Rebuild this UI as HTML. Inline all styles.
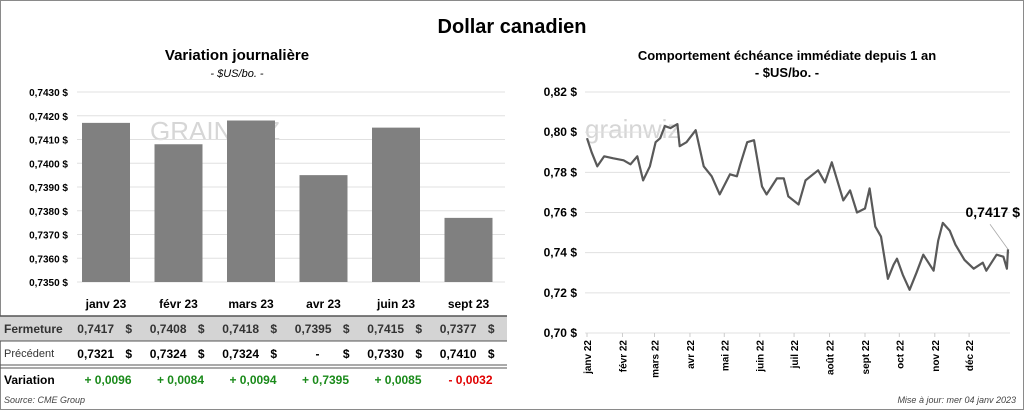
<!DOCTYPE html>
<html><head><meta charset="utf-8">
<style>
body{margin:0;width:1024px;height:410px;overflow:hidden;background:#fff;font-family:"Liberation Sans",sans-serif;}
#frame{position:absolute;left:0;top:0;width:1022px;height:408px;border:1px solid #8a8a8a;}
</style></head>
<body>
<div id="frame"></div>
<svg id="svg" width="1024" height="410" style="position:absolute;left:0;top:0" font-family="Liberation Sans, sans-serif">
<text x="512" y="33" text-anchor="middle" font-size="20" font-weight="bold">Dollar canadien</text>
<text x="237" y="60" text-anchor="middle" font-size="15" font-weight="bold">Variation  journalière</text>
<text x="237" y="77" text-anchor="middle" font-size="11" font-style="italic">- $US/bo. -</text>
<text x="787" y="60" text-anchor="middle" font-size="13" font-weight="bold">Comportement échéance immédiate depuis 1 an</text>
<text x="787" y="77" text-anchor="middle" font-size="13" font-weight="bold">- $US/bo. -</text>
<text x="150" y="140" font-size="26" fill="#d6d6d6">GRAINWIZ</text>
<text x="585" y="138" font-size="26" fill="#d6d6d6">grainwiz</text>
<g id="left"></g><g id="right"></g>
<rect x="0" y="316" width="507" height="25" fill="#d4d4d4"/>
<line x1="0" y1="316" x2="507" y2="316" stroke="#555" stroke-width="1.5"/>
<line x1="0" y1="341" x2="507" y2="341" stroke="#555" stroke-width="1"/>
<line x1="0" y1="365" x2="507" y2="365" stroke="#555" stroke-width="1"/>
<line x1="0" y1="368" x2="507" y2="368" stroke="#555" stroke-width="1"/>
<text x="4" y="333" font-size="12" font-weight="bold" fill="#333">Fermeture</text>
<text x="4" y="357" font-size="11" fill="#333">Précédent</text>
<text x="4" y="384" font-size="12" font-weight="bold">Variation</text>
<g id="table"></g>
<text x="4" y="403" font-size="9" font-style="italic" fill="#444">Source: CME Group</text>
<text x="1016" y="403" text-anchor="end" font-size="9" font-style="italic" fill="#444">Mise à jour: mer 04 janv 2023</text>
</svg>
<script>
const barCats=["janv 23","févr 23","mars 23","avr 23","juin 23","sept 23"];
const barVals=[0.7417,0.7408,0.7418,0.7395,0.7415,0.7377];
const prevLabels=["0,7321","0,7324","0,7324","-","0,7330","0,7410"];
const varLabels=["+ 0,0096","+ 0,0084","+ 0,0094","+ 0,7395","+ 0,0085","- 0,0032"];
const barTicks=[0.7350,0.7360,0.7370,0.7380,0.7390,0.7400,0.7410,0.7420,0.7430];
const lineDays=[0,4,9,15,23,32,38,44,49,55,60,64,68,73,79,81,87,95,102,109,116,125,131,134,140,146,153,157,166,172,176,185,191,202,208,214,224,230,236,243,247,252,257,263,268,271,276,282,288,294,303,307,311,317,322,330,338,346,349,358,364,367,368];
const lineVals=[0.797,0.790,0.783,0.788,0.787,0.786,0.784,0.788,0.776,0.783,0.795,0.797,0.803,0.802,0.804,0.793,0.795,0.801,0.783,0.778,0.769,0.779,0.778,0.784,0.795,0.796,0.773,0.769,0.777,0.777,0.768,0.764,0.776,0.781,0.775,0.785,0.766,0.771,0.760,0.762,0.772,0.753,0.748,0.727,0.734,0.737,0.729,0.7215,0.730,0.739,0.731,0.746,0.7548,0.751,0.744,0.7364,0.732,0.735,0.731,0.739,0.738,0.732,0.7417];
const lineTicks=[0.70,0.72,0.74,0.76,0.78,0.80,0.82];
const monthLabels=["janv 22","févr 22","mars 22","avr 22","mai 22","juin 22","juil 22","août 22","sept 22","oct 22","nov 22","déc 22"];
const monthDays=[0,31,59,90,120,151,181,212,243,273,304,334];

const NS="http://www.w3.org/2000/svg";
function mk(p,t,a,txt){const e=document.createElementNS(NS,t);for(const k in a)e.setAttribute(k,a[k]);if(txt!==undefined)e.textContent=txt;p.appendChild(e);return e;}
const fmt=(v,d)=>v.toFixed(d).replace('.',',');
// left
const L=document.getElementById('left');
const ly=v=>282-(v-0.7350)/0.0080*190;
const lx=i=>70+72.5*i+36;
barTicks.forEach(t=>{
 let g=mk(L,'line',{x1:77,x2:505,y1:ly(t),y2:ly(t),stroke:'#e0e0e0'});
 
 
 let e=mk(L,'text',{x:68,y:ly(t)+4,'text-anchor':'end','font-size':10,'font-weight':'bold'},fmt(t,4)+' $');
 
 
});
barVals.forEach((v,i)=>{
 let r=mk(L,'rect',{x:lx(i)-24,y:ly(v),width:48,height:282-ly(v),fill:'#808080'});
 
 
 let t=mk(L,'text',{x:lx(i),y:308,'text-anchor':'middle','font-size':12,'font-weight':'bold'},barCats[i]);
 
 
});
const T=document.getElementById('table');
barVals.forEach((v,i)=>{
 const cx=lx(i);
 let a=mk(T,'text',{x:cx+8,y:333,'text-anchor':'end','font-size':12,'font-weight':'bold',fill:'#333'},fmt(v,4));
 
 
 mk(T,'text',{x:cx+26,y:333,'text-anchor':'end','font-size':12,'font-weight':'bold',fill:'#333'},'$');
 let b=mk(T,'text',{x:prevLabels[i]=='-'?cx-4:cx+8,y:358,'text-anchor':'end','font-size':12,'font-weight':'bold'},prevLabels[i]);
 
 
 mk(T,'text',{x:cx+26,y:358,'text-anchor':'end','font-size':12,'font-weight':'bold'},'$');
 let c=mk(T,'text',{x:cx+2,y:384,'text-anchor':'middle','font-size':12,'font-weight':'bold',fill:varLabels[i][0]=='-'?'#e00000':'#1a8a1a'},varLabels[i]);
 
 
});
// right
const R=document.getElementById('right');
const ry=v=>333-(v-0.70)/0.12*241;
const rx=d=>587+d/368*421;
lineTicks.forEach(t=>{
 let g=mk(R,'line',{x1:585,x2:1010,y1:ry(t),y2:ry(t),stroke:'#e0e0e0'});
 
 
 let e=mk(R,'text',{x:577,y:ry(t)+4,'text-anchor':'end','font-size':12,'font-weight':'bold'},fmt(t,2)+' $');
 
 
});
monthDays.forEach((d,i)=>{
 mk(R,'line',{x1:rx(d),x2:rx(d),y1:333,y2:337,stroke:'#ccc'});
 let t=mk(R,'text',{transform:`translate(${rx(d)+4},340) rotate(-90)`,'text-anchor':'end','font-size':10,'font-weight':'bold'},monthLabels[i]);
 
 
});
let pts=lineDays.map((d,i)=>rx(d).toFixed(1)+','+ry(lineVals[i]).toFixed(1)).join(' ');
let pl=mk(R,'polyline',{points:pts,fill:'none',stroke:'#595959','stroke-width':2.2,'stroke-linejoin':'round'});


const lastX=rx(lineDays[lineDays.length-1]),lastY=ry(lineVals[lineVals.length-1]);
mk(R,'line',{x1:lastX,y1:lastY,x2:lastX-18,y2:lastY-25,stroke:'#aaa','stroke-width':0.8});
let lab=mk(R,'text',{x:1020,y:217,'text-anchor':'end','font-size':14,'font-weight':'bold'},fmt(lineVals[lineVals.length-1],4)+' $');


</script>
</body></html>
